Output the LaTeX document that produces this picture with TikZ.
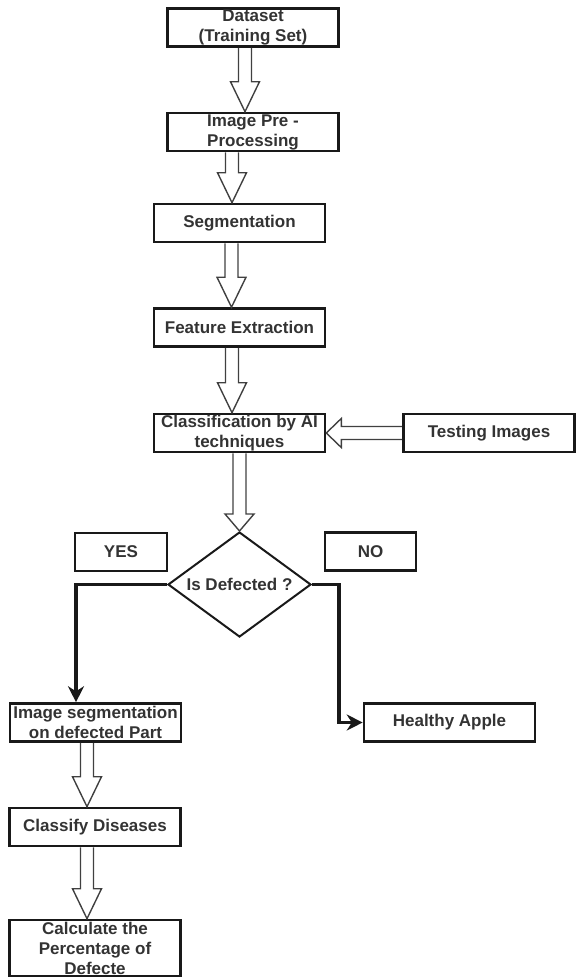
\documentclass[tikz,border=0pt]{standalone}
\usepackage{fontspec}
\setmainfont{Liberation Sans}
\usepackage{tikz}
\usetikzlibrary{shapes.geometric,arrows.meta,calc}
% hollow block arrow from #2 to #3, #1 = head length
\newcommand\hollowarrow[3][30pt]{%
  \path #2 coordinate (ha) #3 coordinate (hb) ($(hb)!#1!(ha)$) coordinate (hm);
  \draw[blockarrow] ($(ha)!6.5pt!90:(hb)$) -- ($(hm)!6.5pt!90:(hb)$) -- ($(hm)!14.5pt!90:(hb)$)
    -- (hb) -- ($(hm)!14.5pt!-90:(hb)$) -- ($(hm)!6.5pt!-90:(hb)$) -- ($(ha)!6.5pt!-90:(hb)$);}

\tikzset{
  stepbox/.style={draw=black!90, line width=2.6pt, minimum width=171pt, minimum height=38pt,
    inner sep=0pt, align=center, text=black!80, font=\fontsize{17}{20}\selectfont\bfseries},
  decision/.style={diamond, draw=black!90, line width=2pt, aspect=1.36, minimum width=143pt,
    minimum height=105pt, inner sep=0pt, text=black!80, font=\fontsize{17}{20}\selectfont\bfseries},
  blockarrow/.style={draw=black!75, line width=1.4pt, line join=miter},
  flowline/.style={line width=3.2pt, draw=black!90, -{Stealth[length=16pt,width=16pt]}},
}

\begin{document}
\begin{tikzpicture}[x=1pt,y=-1pt]
%\draw[help lines] (0,0) grid (577,980);
\useasboundingbox (0,0) rectangle (577,980);

\node[stepbox] (data) at (253,27.5) {Dataset\\(Training Set)};
\node[stepbox] (pre) at (253,132) {Image Pre -\\Processing};
\node[stepbox] (seg) at (239.5,223) {Segmentation};
\node[stepbox] (feat) at (239.5,327.5) {Feature Extraction};
\node[stepbox] (cls) at (239.5,433) {Classification by AI\\techniques};
\node[stepbox] (test) at (489,433) {Testing Images};
\node[decision] (dia) at (239.5,584.5) {Is Defected ?};
\node[stepbox,minimum width=92pt] (yes) at (121,552) {YES};
\node[stepbox,minimum width=91pt] (no) at (370.5,551.5) {NO};
\node[stepbox] (imgseg) at (95.5,722.5) {Image segmentation\\on defected Part};
\node[stepbox] (healthy) at (449.5,722.5) {Healthy Apple};
\node[stepbox] (dis) at (95,827) {Classify Diseases};
\node[stepbox,minimum height=56pt] (calc) at (95,948) {Calculate the\\Percentage of\\Defecte};

\hollowarrow{($(data.south)+(-8,0)$)}{($(pre.north)+(-8,0)$)}
\hollowarrow{($(pre.south)+(-21,0)$)}{($(seg.north)+(-7.5,0)$)}
\hollowarrow{($(seg.south)+(-8,0)$)}{($(feat.north)+(-8,0)$)}
\hollowarrow{($(feat.south)+(-7.5,0)$)}{($(cls.north)+(-7.5,0)$)}
\hollowarrow[17pt]{(cls.south)}{(dia.north)}
\hollowarrow[15pt]{(test.west)}{(cls.east)}
\hollowarrow{($(imgseg.south)+(-8.5,0)$)}{($(dis.north)+(-8,0)$)}
\hollowarrow{($(dis.south)+(-8,0)$)}{($(calc.north)+(-8,0)$)}

\draw[flowline] (dia.west) -| ($(imgseg.north)+(-19.5,0)$);
\draw[flowline] (dia.east) -- ++(27,0) |- (healthy.west);
\end{tikzpicture}
\end{document}
